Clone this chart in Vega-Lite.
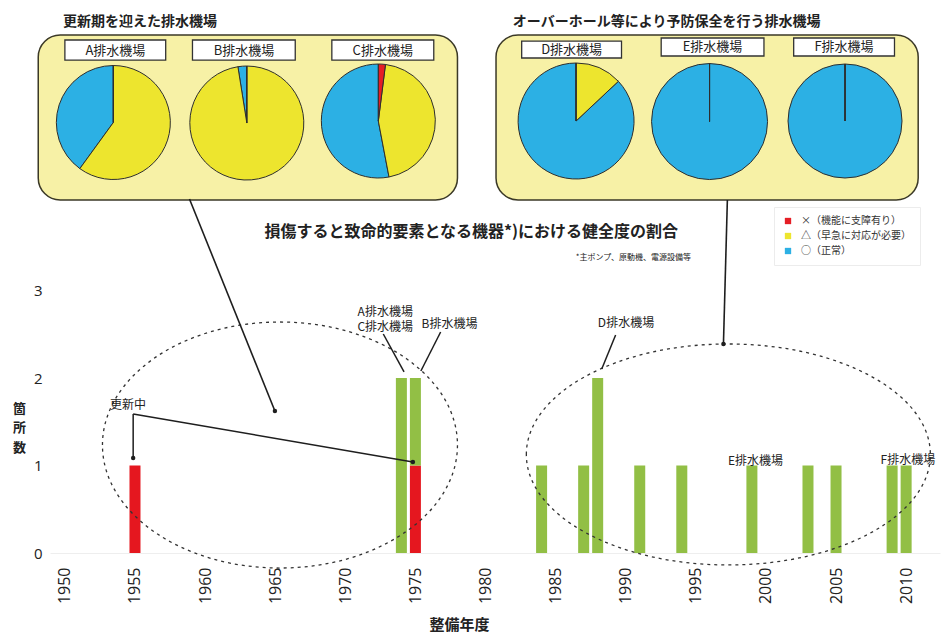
{
  "$schema": "https://vega.github.io/schema/vega-lite/v6.json",
  "width": 890,
  "height": 553,
  "autosize": {"type": "none"},
  "padding": {"left": 50, "top": 0, "right": 11, "bottom": 80},
  "background": "white",
  "config": {
    "view": {"stroke": null},
    "font": "Noto Sans CJK JP",
    "text": {"font": "Noto Sans CJK JP", "color": "#222222"}
  },
  "datasets": {
    "bars": [
      {"year": 1955, "state": "更新中", "n": 1},
      {"year": 1974, "state": "稼働中", "n": 2},
      {"year": 1975, "state": "更新中", "n": 1},
      {"year": 1975, "state": "稼働中", "n": 1},
      {"year": 1984, "state": "稼働中", "n": 1},
      {"year": 1987, "state": "稼働中", "n": 1},
      {"year": 1988, "state": "稼働中", "n": 2},
      {"year": 1991, "state": "稼働中", "n": 1},
      {"year": 1994, "state": "稼働中", "n": 1},
      {"year": 1999, "state": "稼働中", "n": 1},
      {"year": 2003, "state": "稼働中", "n": 1},
      {"year": 2005, "state": "稼働中", "n": 1},
      {"year": 2009, "state": "稼働中", "n": 1},
      {"year": 2010, "state": "稼働中", "n": 1}
    ],
    "pies": [
      {"station": "A排水機場", "status": "○（正常）", "start": 60, "end": 100},
      {"station": "A排水機場", "status": "△（早急に対応が必要）", "start": 0, "end": 60},
      {"station": "A排水機場", "status": "×（機能に支障有り）", "start": 0, "end": 0},
      {"station": "B排水機場", "status": "○（正常）", "start": 97.5, "end": 100},
      {"station": "B排水機場", "status": "△（早急に対応が必要）", "start": 0, "end": 97.5},
      {"station": "B排水機場", "status": "×（機能に支障有り）", "start": 0, "end": 0},
      {"station": "C排水機場", "status": "○（正常）", "start": 47, "end": 100},
      {"station": "C排水機場", "status": "△（早急に対応が必要）", "start": 2, "end": 47},
      {"station": "C排水機場", "status": "×（機能に支障有り）", "start": 0, "end": 2},
      {"station": "D排水機場", "status": "○（正常）", "start": 13, "end": 100},
      {"station": "D排水機場", "status": "△（早急に対応が必要）", "start": 0, "end": 13},
      {"station": "D排水機場", "status": "×（機能に支障有り）", "start": 0, "end": 0},
      {"station": "E排水機場", "status": "○（正常）", "start": 0, "end": 100},
      {"station": "E排水機場", "status": "△（早急に対応が必要）", "start": 0, "end": 0},
      {"station": "E排水機場", "status": "×（機能に支障有り）", "start": 0, "end": 0},
      {"station": "F排水機場", "status": "○（正常）", "start": 0, "end": 100},
      {"station": "F排水機場", "status": "△（早急に対応が必要）", "start": 0, "end": 0},
      {"station": "F排水機場", "status": "×（機能に支障有り）", "start": 0, "end": 0}
    ]
  },
  "layer": [
    {
      "data": {"values": [{"group": "更新期を迎えた排水機場"}]},
      "layer": [
        {"mark": {"type": "rect", "fill": "#f7f1a6", "stroke": "#3b3927", "strokeWidth": 1.5, "cornerRadius": 22},
         "encoding": {"x": {"datum": 1948.10}, "x2": {"datum": 1978.00}, "y": {"datum": 5.92}, "y2": {"datum": 4.034}}},
        {"mark": {"type": "text", "align": "left", "baseline": "middle", "fontSize": 14, "fontWeight": "bold"},
         "encoding": {"x": {"datum": 1949.86}, "y": {"datum": 6.074}, "text": {"field": "group"}}}
      ]
    },
    {
      "data": {"values": [{"group": "オーバーホール等により予防保全を行う排水機場"}]},
      "layer": [
        {"mark": {"type": "rect", "fill": "#f7f1a6", "stroke": "#3b3927", "strokeWidth": 1.5, "cornerRadius": 22},
         "encoding": {"x": {"datum": 1980.75}, "x2": {"datum": 2010.86}, "y": {"datum": 5.92}, "y2": {"datum": 4.034}}},
        {"mark": {"type": "text", "align": "left", "baseline": "middle", "fontSize": 14, "fontWeight": "bold"},
         "encoding": {"x": {"datum": 1981.95}, "y": {"datum": 6.069}, "text": {"field": "group"}}}
      ]
    },
    {
      "data": {"values": [{"name": "A排水機場"}]},
      "layer": [
        {"mark": {"type": "rect", "fill": "white", "stroke": "#333333", "strokeWidth": 1.3},
         "encoding": {"x": {"datum": 1950.00}, "x2": {"datum": 1957.19}, "y": {"datum": 5.863}, "y2": {"datum": 5.634}}},
        {"mark": {"type": "text", "align": "center", "baseline": "middle", "fontSize": 13},
         "encoding": {"x": {"datum": 1953.60}, "y": {"datum": 5.737}, "text": {"field": "name"}}}
      ]
    },
    {
      "data": {"values": [{"name": "B排水機場"}]},
      "layer": [
        {"mark": {"type": "rect", "fill": "white", "stroke": "#333333", "strokeWidth": 1.3},
         "encoding": {"x": {"datum": 1959.10}, "x2": {"datum": 1966.43}, "y": {"datum": 5.863}, "y2": {"datum": 5.634}}},
        {"mark": {"type": "text", "align": "center", "baseline": "middle", "fontSize": 13},
         "encoding": {"x": {"datum": 1962.77}, "y": {"datum": 5.737}, "text": {"field": "name"}}}
      ]
    },
    {
      "data": {"values": [{"name": "C排水機場"}]},
      "layer": [
        {"mark": {"type": "rect", "fill": "white", "stroke": "#333333", "strokeWidth": 1.3},
         "encoding": {"x": {"datum": 1969.04}, "x2": {"datum": 1976.31}, "y": {"datum": 5.863}, "y2": {"datum": 5.634}}},
        {"mark": {"type": "text", "align": "center", "baseline": "middle", "fontSize": 13},
         "encoding": {"x": {"datum": 1972.67}, "y": {"datum": 5.737}, "text": {"field": "name"}}}
      ]
    },
    {
      "data": {"values": [{"name": "D排水機場"}]},
      "layer": [
        {"mark": {"type": "rect", "fill": "white", "stroke": "#333333", "strokeWidth": 1.3},
         "encoding": {"x": {"datum": 1982.58}, "x2": {"datum": 1989.70}, "y": {"datum": 5.851}, "y2": {"datum": 5.657}}},
        {"mark": {"type": "text", "align": "center", "baseline": "middle", "fontSize": 13},
         "encoding": {"x": {"datum": 1986.14}, "y": {"datum": 5.749}, "text": {"field": "name"}}}
      ]
    },
    {
      "data": {"values": [{"name": "E排水機場"}]},
      "layer": [
        {"mark": {"type": "rect", "fill": "white", "stroke": "#333333", "strokeWidth": 1.3},
         "encoding": {"x": {"datum": 1992.53}, "x2": {"datum": 1999.86}, "y": {"datum": 5.886}, "y2": {"datum": 5.680}}},
        {"mark": {"type": "text", "align": "center", "baseline": "middle", "fontSize": 13},
         "encoding": {"x": {"datum": 1996.19}, "y": {"datum": 5.783}, "text": {"field": "name"}}}
      ]
    },
    {
      "data": {"values": [{"name": "F排水機場"}]},
      "layer": [
        {"mark": {"type": "rect", "fill": "white", "stroke": "#333333", "strokeWidth": 1.3},
         "encoding": {"x": {"datum": 2001.98}, "x2": {"datum": 2009.17}, "y": {"datum": 5.886}, "y2": {"datum": 5.680}}},
        {"mark": {"type": "text", "align": "center", "baseline": "middle", "fontSize": 13},
         "encoding": {"x": {"datum": 2005.57}, "y": {"datum": 5.783}, "text": {"field": "name"}}}
      ]
    },
    {
      "data": {"name": "pies"},
      "transform": [{"filter": {"field": "station", "equal": "A排水機場"}}],
      "mark": {"type": "arc", "radius": 57, "stroke": "#2e2e2e", "strokeWidth": 1},
      "encoding": {
        "x": {"datum": 1953.456},
        "y": {"datum": 4.92},
        "theta": {"field": "start", "type": "quantitative", "scale": {"domain": [0, 100]}},
        "theta2": {"field": "end"},
        "color": {
          "field": "status",
          "type": "nominal",
          "scale": {
            "domain": ["×（機能に支障有り）", "△（早急に対応が必要）", "○（正常）"],
            "range": ["#e51e25", "#ede52e", "#2cb0e4"]
          },
          "legend": {
            "orient": "none",
            "legendX": 724,
            "legendY": 207,
            "title": null,
            "symbolType": "square",
            "symbolSize": 40,
            "symbolStrokeWidth": 0,
            "labelFont": "Noto Sans CJK JP",
            "labelFontSize": 10,
            "labelColor": "#333333",
            "labelOffset": 8,
            "rowPadding": 5,
            "padding": 9,
            "strokeColor": "#ececec"
          }
        }
      }
    },
    {
      "data": {"name": "pies"},
      "transform": [{"filter": {"field": "station", "equal": "B排水機場"}}],
      "mark": {"type": "arc", "radius": 57, "stroke": "#2e2e2e", "strokeWidth": 1},
      "encoding": {
        "x": {"datum": 1962.976},
        "y": {"datum": 4.914},
        "theta": {"field": "start", "type": "quantitative", "scale": {"domain": [0, 100]}},
        "theta2": {"field": "end"},
        "color": {"field": "status", "type": "nominal"}
      }
    },
    {
      "data": {"name": "pies"},
      "transform": [{"filter": {"field": "station", "equal": "C排水機場"}}],
      "mark": {"type": "arc", "radius": 57, "stroke": "#2e2e2e", "strokeWidth": 1},
      "encoding": {
        "x": {"datum": 1972.356},
        "y": {"datum": 4.937},
        "theta": {"field": "start", "type": "quantitative", "scale": {"domain": [0, 100]}},
        "theta2": {"field": "end"},
        "color": {"field": "status", "type": "nominal"}
      }
    },
    {
      "data": {"name": "pies"},
      "transform": [{"filter": {"field": "station", "equal": "D排水機場"}}],
      "mark": {"type": "arc", "radius": 58, "stroke": "#2e2e2e", "strokeWidth": 1},
      "encoding": {
        "x": {"datum": 1986.46},
        "y": {"datum": 4.937},
        "theta": {"field": "start", "type": "quantitative", "scale": {"domain": [0, 100]}},
        "theta2": {"field": "end"},
        "color": {"field": "status", "type": "nominal"}
      }
    },
    {
      "data": {"name": "pies"},
      "transform": [{"filter": {"field": "station", "equal": "E排水機場"}}],
      "mark": {"type": "arc", "radius": 58, "stroke": "#2e2e2e", "strokeWidth": 1},
      "encoding": {
        "x": {"datum": 1995.98},
        "y": {"datum": 4.931},
        "theta": {"field": "start", "type": "quantitative", "scale": {"domain": [0, 100]}},
        "theta2": {"field": "end"},
        "color": {"field": "status", "type": "nominal"}
      }
    },
    {
      "data": {"name": "pies"},
      "transform": [{"filter": {"field": "station", "equal": "F排水機場"}}],
      "mark": {"type": "arc", "radius": 57, "stroke": "#2e2e2e", "strokeWidth": 1},
      "encoding": {
        "x": {"datum": 2005.642},
        "y": {"datum": 4.937},
        "theta": {"field": "start", "type": "quantitative", "scale": {"domain": [0, 100]}},
        "theta2": {"field": "end"},
        "color": {"field": "status", "type": "nominal"}
      }
    },
    {
      "data": {"name": "bars"},
      "mark": {"type": "bar", "width": 11},
      "encoding": {
        "x": {
          "field": "year",
          "type": "quantitative",
          "scale": {"domain": [1949.295, 2012.059], "nice": false, "zero": false},
          "axis": {
            "values": [1950, 1955, 1960, 1965, 1970, 1975, 1980, 1985, 1990, 1995, 2000, 2005, 2010],
            "format": "d",
            "labelAngle": -90,
            "labelFont": "Open Sans",
            "labelFontSize": 16,
            "labelColor": "#222222",
            "labelPadding": 14,
            "labelFlush": false,
            "labelOverlap": false,
            "ticks": false,
            "tickSize": 0,
            "grid": false,
            "domainColor": "#eeeeee",
            "title": "整備年度",
            "titleFont": "Noto Sans CJK JP",
            "titleFontSize": 15,
            "titleFontWeight": "bold",
            "titleColor": "#222222",
            "titleX": 409,
            "titleY": 71,
            "titleAlign": "center",
            "titleBaseline": "middle"
          }
        },
        "y": {
          "field": "n",
          "type": "quantitative",
          "stack": "zero",
          "scale": {"domain": [0, 6.32], "nice": false},
          "axis": {
            "values": [0, 1, 2, 3],
            "format": "d",
            "labelFont": "Open Sans",
            "labelFontSize": 15,
            "labelColor": "#222222",
            "labelPadding": 8,
            "labelFlush": false,
            "ticks": false,
            "tickSize": 0,
            "domain": false,
            "grid": false,
            "title": ["箇", "所", "数"],
            "titleFont": "Noto Sans CJK JP",
            "titleFontSize": 13,
            "titleFontWeight": "bold",
            "titleColor": "#222222",
            "titleAngle": 0,
            "titleX": -31,
            "titleY": 402,
            "titleAlign": "center",
            "titleBaseline": "top",
            "titleLineHeight": 19.5
          }
        },
        "fill": {
          "field": "state",
          "type": "nominal",
          "scale": {"domain": ["更新中", "稼働中"], "range": ["#e5171f", "#92bf45"]},
          "legend": null
        },
        "order": {"field": "state", "sort": "ascending"}
      }
    },
    {
      "data": {"values": [{"zone": "更新期"}]},
      "mark": {"type": "point", "shape": "M-1,0A1,0.693,0,1,1,1,0A1,0.693,0,1,1,-1,0Z", "size": 126025, "filled": false, "stroke": "#333333", "strokeWidth": 1.3, "strokeDash": [3, 4], "opacity": 1},
      "encoding": {"x": {"datum": 1965.34}, "y": {"datum": 1.234}}
    },
    {
      "data": {"values": [{"zone": "予防保全"}]},
      "mark": {"type": "point", "shape": "M-1,0A1,0.547,0,1,1,1,0A1,0.547,0,1,1,-1,0Z", "size": 163216, "filled": false, "stroke": "#333333", "strokeWidth": 1.3, "strokeDash": [3, 4], "opacity": 1},
      "encoding": {"x": {"datum": 1997.32}, "y": {"datum": 1.126}}
    },
    {
      "data": {"values": [{"link": "更新期"}]},
      "mark": {"type": "rule", "stroke": "#1e1e1e", "strokeWidth": 1.6},
      "encoding": {"x": {"datum": 1958.886}, "y": {"datum": 4.046}, "x2": {"datum": 1964.98}, "y2": {"datum": 1.623}}
    },
    {
      "data": {"values": [{"link": "予防保全"}]},
      "mark": {"type": "rule", "stroke": "#1e1e1e", "strokeWidth": 1.6},
      "encoding": {"x": {"datum": 1997.25}, "y": {"datum": 4.034}, "x2": {"datum": 1996.97}, "y2": {"datum": 2.389}}
    },
    {
      "data": {"values": [{"link": "更新中1955"}]},
      "mark": {"type": "rule", "stroke": "#1e1e1e", "strokeWidth": 1.5},
      "encoding": {"x": {"datum": 1954.87}, "y": {"datum": 1.589}, "x2": {"datum": 1954.87}, "y2": {"datum": 1.086}}
    },
    {
      "data": {"values": [{"link": "更新中1975"}]},
      "mark": {"type": "rule", "stroke": "#1e1e1e", "strokeWidth": 1.5},
      "encoding": {"x": {"datum": 1954.87}, "y": {"datum": 1.589}, "x2": {"datum": 1974.82}, "y2": {"datum": 1.04}}
    },
    {
      "data": {"values": [{"link": "A・C"}]},
      "mark": {"type": "rule", "stroke": "#1e1e1e", "strokeWidth": 1.5},
      "encoding": {"x": {"datum": 1972.71}, "y": {"datum": 2.503}, "x2": {"datum": 1974.19}, "y2": {"datum": 2.069}}
    },
    {
      "data": {"values": [{"link": "B"}]},
      "mark": {"type": "rule", "stroke": "#1e1e1e", "strokeWidth": 1.5},
      "encoding": {"x": {"datum": 1976.80}, "y": {"datum": 2.526}, "x2": {"datum": 1975.39}, "y2": {"datum": 2.08}}
    },
    {
      "data": {"values": [{"link": "D"}]},
      "mark": {"type": "rule", "stroke": "#1e1e1e", "strokeWidth": 1.5},
      "encoding": {"x": {"datum": 1989.28}, "y": {"datum": 2.491}, "x2": {"datum": 1988.29}, "y2": {"datum": 2.103}}
    },
    {
      "data": {"values": [{"end": "更新期"}]},
      "mark": {"type": "point", "shape": "circle", "size": 20, "filled": true, "color": "#1e1e1e", "opacity": 1},
      "encoding": {"x": {"datum": 1964.98}, "y": {"datum": 1.623}}
    },
    {
      "data": {"values": [{"end": "予防保全"}]},
      "mark": {"type": "point", "shape": "circle", "size": 20, "filled": true, "color": "#1e1e1e", "opacity": 1},
      "encoding": {"x": {"datum": 1996.97}, "y": {"datum": 2.389}}
    },
    {
      "data": {"values": [{"end": "1955"}]},
      "mark": {"type": "point", "shape": "circle", "size": 20, "filled": true, "color": "#1e1e1e", "opacity": 1},
      "encoding": {"x": {"datum": 1954.87}, "y": {"datum": 1.086}}
    },
    {
      "data": {"values": [{"end": "1975"}]},
      "mark": {"type": "point", "shape": "circle", "size": 20, "filled": true, "color": "#1e1e1e", "opacity": 1},
      "encoding": {"x": {"datum": 1974.82}, "y": {"datum": 1.04}}
    },
    {
      "data": {"values": [{"label": "損傷すると致命的要素となる機器*)における健全度の割合"}]},
      "mark": {"type": "text", "align": "center", "baseline": "middle", "fontSize": 16, "fontWeight": "bold"},
      "encoding": {"x": {"datum": 1978.985}, "y": {"datum": 3.669}, "text": {"field": "label"}}
    },
    {
      "data": {"values": [{"label": "*主ポンプ、原動機、電源設備等"}]},
      "mark": {"type": "text", "align": "center", "baseline": "middle", "fontSize": 8},
      "encoding": {"x": {"datum": 1990.55}, "y": {"datum": 3.371}, "text": {"field": "label"}}
    },
    {
      "data": {"values": [{"label": "更新中"}]},
      "mark": {"type": "text", "align": "center", "baseline": "middle", "fontSize": 12},
      "encoding": {"x": {"datum": 1954.51}, "y": {"datum": 1.691}, "text": {"field": "label"}}
    },
    {
      "data": {"values": [{"label": "A排水機場"}]},
      "mark": {"type": "text", "align": "center", "baseline": "middle", "fontSize": 12},
      "encoding": {"x": {"datum": 1972.85}, "y": {"datum": 2.76}, "text": {"field": "label"}}
    },
    {
      "data": {"values": [{"label": "C排水機場"}]},
      "mark": {"type": "text", "align": "center", "baseline": "middle", "fontSize": 12},
      "encoding": {"x": {"datum": 1972.85}, "y": {"datum": 2.583}, "text": {"field": "label"}}
    },
    {
      "data": {"values": [{"label": "B排水機場"}]},
      "mark": {"type": "text", "align": "center", "baseline": "middle", "fontSize": 12},
      "encoding": {"x": {"datum": 1977.43}, "y": {"datum": 2.617}, "text": {"field": "label"}}
    },
    {
      "data": {"values": [{"label": "D排水機場"}]},
      "mark": {"type": "text", "align": "center", "baseline": "middle", "fontSize": 12},
      "encoding": {"x": {"datum": 1990.02}, "y": {"datum": 2.629}, "text": {"field": "label"}}
    },
    {
      "data": {"values": [{"label": "E排水機場"}]},
      "mark": {"type": "text", "align": "center", "baseline": "middle", "fontSize": 12},
      "encoding": {"x": {"datum": 1999.26}, "y": {"datum": 1.057}, "text": {"field": "label"}}
    },
    {
      "data": {"values": [{"label": "F排水機場"}]},
      "mark": {"type": "text", "align": "center", "baseline": "middle", "fontSize": 12},
      "encoding": {"x": {"datum": 2010.12}, "y": {"datum": 1.063}, "text": {"field": "label"}}
    }
  ]
}
